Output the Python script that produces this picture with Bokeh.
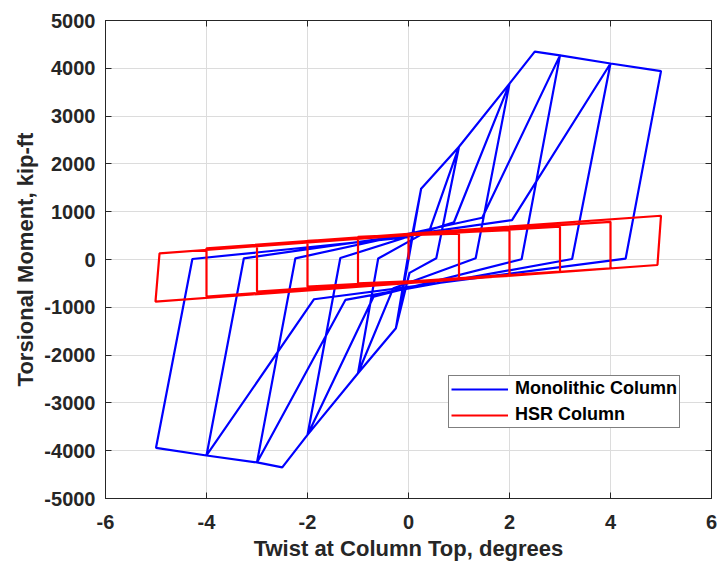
from bokeh.plotting import figure
from bokeh.models import Range1d, FixedTicker, LinearAxis, Legend, LegendItem
from bokeh.embed import file_html
from bokeh.resources import INLINE

# Monolithic column (twist in degrees, torsional moment in kip-ft)
mono_twist = [0, 0.25, -0.02, -0.25, 0.0, 0.04, 0.25, 1.0, 0.55, 0.02, -0.25, -1.0, -0.6,
              0.42, 1.0, 2.0, 1.33, -0.3, -1.0, -2.0, -1.35,
              0.9, 2.0, 2.5, 3.0, 2.24, -0.69, -2.0, -2.5, -3.0, -2.24,
              1.46, 3.0, 4.0, 3.24, -1.25, -3.0, -4.0, -3.26,
              2.05, 4.0, 5.0, 4.3, -1.87, -4.0, -5.0, -4.28, 0.0]
mono_moment = [0, 1480, 0, -1440, 0, 300, 1480, 2360, 25, -280, -1440, -2380, 20,
               620, 2360, 3680, 25, -600, -2380, -3670, 30,
               780, 3680, 4350, 4270, 5, -776, -3670, -4350, -4245, 25,
               873, 4270, 4100, 10, -846, -4245, -4100, 25,
               825, 4100, 3940, 20, -831, -4100, -3940, 10, 470]

# HSR column
hsr_twist = [0, 0, 1, 1, -1, -1, 2, 2, -2, -2, 3, 3, -3, -3, 4, 4, -4, -4, 5, 4.93, -5.01, -4.93, 0]
hsr_moment = [0, 510, 540, -414, -497, 476, 616, -345, -568, 390, 685, -254, -672, 303,
              789, -184, -776, 234, 915, -115, -880, 130, 510]

x_ticks = [-6, -4, -2, 0, 2, 4, 6]
y_ticks = [-5000, -4000, -3000, -2000, -1000, 0, 1000, 2000, 3000, 4000, 5000]

FONT = "Liberation Sans"
TXT = "#262626"

p = figure(width=717, height=566, x_range=Range1d(-6, 6), y_range=Range1d(-5000, 5000),
           output_backend="svg", toolbar_location=None,
           min_border_left=105, min_border_right=6, min_border_top=20, min_border_bottom=68)
p.background_fill_color = "white"
p.border_fill_color = "white"
p.outline_line_color = TXT
p.outline_line_width = 1

for ax in (p.xaxis[0], p.yaxis[0]):
    ax.major_label_text_font = FONT
    ax.major_label_text_font_style = "bold"
    ax.major_label_text_font_size = "20px"
    ax.major_label_text_color = TXT
    ax.axis_label_text_font = FONT
    ax.axis_label_text_font_style = "bold"
    ax.axis_label_text_font_size = "22px"
    ax.axis_label_text_color = TXT
    ax.axis_line_color = TXT
    ax.major_tick_line_color = TXT
    ax.major_tick_in = 6
    ax.major_tick_out = 0
    ax.minor_tick_line_color = None

p.xaxis[0].ticker = FixedTicker(ticks=x_ticks)
p.yaxis[0].ticker = FixedTicker(ticks=y_ticks)
p.xaxis[0].major_label_overrides = {t: str(t) for t in x_ticks}
p.yaxis[0].major_label_overrides = {t: str(t) for t in y_ticks}
p.xaxis[0].axis_label = "Twist at Column Top, degrees"
p.yaxis[0].axis_label = "Torsional Moment, kip-ft"
p.xaxis[0].major_label_standoff = 16
p.yaxis[0].major_label_standoff = 10
p.xaxis[0].axis_label_standoff = 4
p.yaxis[0].axis_label_standoff = 3

top_ax = LinearAxis(ticker=FixedTicker(ticks=x_ticks), major_label_text_font_size="6px",
                    major_label_text_color=None,
                    major_tick_in=6, major_tick_out=0, minor_tick_line_color=None,
                    axis_line_color=TXT, major_tick_line_color=TXT, major_label_standoff=0)
right_ax = LinearAxis(ticker=FixedTicker(ticks=y_ticks), major_label_text_font_size="6px",
                      major_label_text_color=None,
                      major_tick_in=6, major_tick_out=0, minor_tick_line_color=None,
                      axis_line_color=TXT, major_tick_line_color=TXT, major_label_standoff=0)
p.add_layout(top_ax, "above")
p.add_layout(right_ax, "right")

p.xgrid.ticker = FixedTicker(ticks=x_ticks)
p.ygrid.ticker = FixedTicker(ticks=y_ticks)
for g in (p.xgrid[0], p.ygrid[0]):
    g.grid_line_color = "#dcdcdc"
    g.grid_line_width = 1

r1 = p.line(mono_twist, mono_moment, line_color="#0000ff", line_width=2.2)
r2 = p.line(hsr_twist, hsr_moment, line_color="#ff0000", line_width=2.2)

legend = Legend(items=[LegendItem(label="Monolithic Column", renderers=[r1]),
                       LegendItem(label="HSR Column", renderers=[r2])],
                location=(343, 70), margin=0, padding=2, spacing=5,
                glyph_width=57, glyph_height=20, label_standoff=7,
                label_text_font=FONT, label_text_font_style="bold",
                label_text_font_size="18px", label_text_color="black",
                border_line_color="black", border_line_width=1,
                background_fill_color="white", background_fill_alpha=1)
p.add_layout(legend, "center")

open("out.html", "w").write(file_html(p, INLINE))
